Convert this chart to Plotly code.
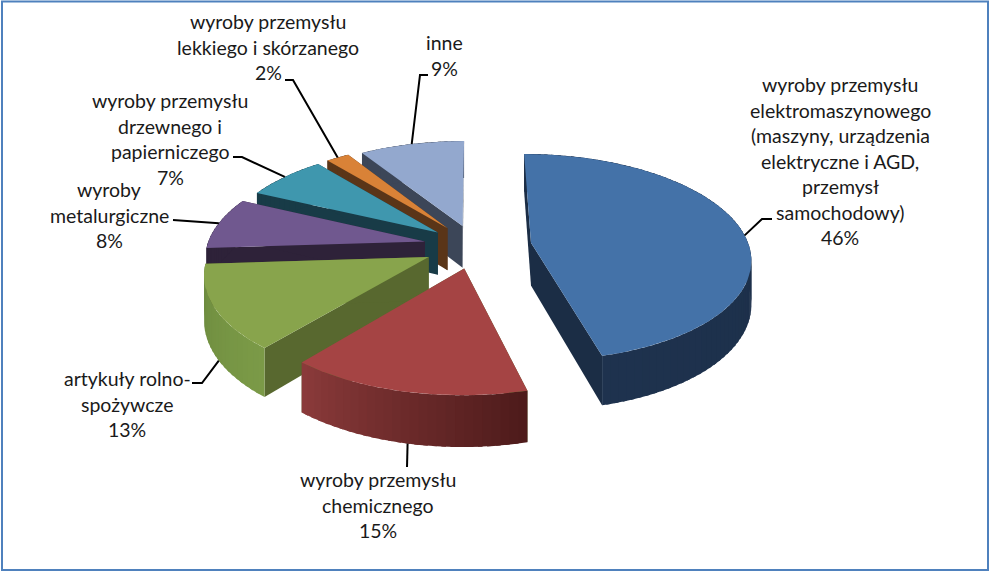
import math
import plotly.graph_objects as go

categories = ["wyroby przemysłu elektromaszynowego", "wyroby przemysłu chemicznego", "artykuły rolno-spożywcze",
              "wyroby metalurgiczne", "wyroby przemysłu drzewnego i papierniczego",
              "wyroby przemysłu lekkiego i skórzanego", "inne"]
values = [46, 15, 13, 8, 7, 2, 9]
label_lines = [
    ["wyroby przemysłu", "elektromaszynowego", "(maszyny, urządzenia", "elektryczne i AGD,", "przemysł", "samochodowy)"],
    ["wyroby przemysłu", "chemicznego"],
    ["artykuły rolno-", "spożywcze"],
    ["wyroby", "metalurgiczne"],
    ["wyroby przemysłu", "drzewnego i", "papierniczego"],
    ["wyroby przemysłu", "lekkiego i skórzanego"],
    ["inne"],
]
label_pos = [(840, 84.5), (378, 479.5), (127, 378.5), (109, 189.5), (170, 100.5), (268, 21.5), (444, 42.5)]
elbows = [[(762, 219), (772, 219)], [(407, 467)], [(202, 383), (192, 383)], [(173, 220)],
          [(242, 157), (233, 157)], [(293, 80), (285, 80)], [(420, 75), (428, 75)]]
anchor_offset = [3, -0.5, -3, 0, 0, 0, 0]

top_colors = ["#4472a8", "#a54444", "#88a44c", "#70588f", "#3f97ae", "#d98237", "#93a8ce"]
side_colors = ["#1b2d45", "#58682f", "#58682f", "#2e2239", "#183b47", "#5a3518", "#3c4658"]
arc_left = ["#1e324e", "#8a3a3a", "#6c8a3e", "#2e2239", "#183b47", "#5a3518", "#3c4658"]
arc_right = ["#1b2d45", "#4e1b1b", "#7b9a47", "#2e2239", "#183b47", "#5a3518", "#3c4658"]
explode = [0.26, 0.22, 0.235, 0.235, 0.22, 0.22, 0.21]
CX, CY, A, B, K, H, START = 475, 246, 218, 102, 0.14, 43, 0


def project(theta, radius, ex, mid, z=0.0):
    tx, mx = math.radians(theta), math.radians(mid)
    X = ex * math.sin(mx) + radius * math.sin(tx)
    V = ex * math.cos(mx) + radius * math.cos(tx)
    d = 1 + K * V
    return CX + A * X / d, CY - B * V / d + z * H / d


def mix(c1, c2, t):
    a = [int(c1[i:i + 2], 16) for i in (1, 3, 5)]
    b = [int(c2[i:i + 2], 16) for i in (1, 3, 5)]
    return "#%02x%02x%02x" % tuple(round(p + (q - p) * t) for p, q in zip(a, b))


fig = go.Figure()


def poly(pts, color):
    xs = [p[0] for p in pts] + [pts[0][0]]
    ys = [p[1] for p in pts] + [pts[0][1]]
    fig.add_trace(go.Scatter(x=xs, y=ys, mode="lines", fill="toself", fillcolor=color,
                             line=dict(color=color, width=0), hoverinfo="skip", showlegend=False))


spans = []
acc = START
for v in values:
    spans.append((acc, acc + v * 3.6))
    acc += v * 3.6

order = [6, 5, 4, 3, 2, 0, 1]
for i in order:
    t0, t1 = spans[i]
    mid = (t0 + t1) / 2
    ex = explode[i]
    for t in (t0, t1):
        poly([project(t, 0, ex, mid), project(t, 1, ex, mid), project(t, 1, ex, mid, 1), project(t, 0, ex, mid, 1)],
             side_colors[i])
    n = max(4, int((t1 - t0) / 2))
    for j in range(n):
        a0 = t0 + (t1 - t0) * j / n
        a1 = min(t1, t0 + (t1 - t0) * (j + 1) / n + 1.0)
        col = mix(arc_right[i], arc_left[i], j / max(1, n - 1))
        poly([project(a0, 1, ex, mid), project(a1, 1, ex, mid), project(a1, 1, ex, mid, 1), project(a0, 1, ex, mid, 1)], col)
    m = max(8, int(t1 - t0))
    pts = [project(t0 + (t1 - t0) * j / m, 1, ex, mid) for j in range(m + 1)]
    pts.append(project(t0, 0, ex, mid))
    poly(pts, top_colors[i])

annotations = []
for i, (lines, v) in enumerate(zip(label_lines, values)):
    cx_lab, y0 = label_pos[i]
    for j, s in enumerate(lines + [f"{v}%"]):
        annotations.append(dict(x=cx_lab, y=y0 + j * 25.5, text=s, showarrow=False, xref="x", yref="y",
                                xanchor="center", yanchor="middle", font=dict(family="Lato", size=19.5, color="#1a1a1a")))
    t0, t1 = spans[i]
    mid = (t0 + t1) / 2
    front = i in (1, 2)
    start = project(mid + anchor_offset[i], 1, explode[i], mid, 1 if front else 0)
    pts = [start] + elbows[i]
    fig.add_trace(go.Scatter(x=[p[0] for p in pts], y=[p[1] for p in pts], mode="lines",
                             line=dict(color="#000000", width=2), hoverinfo="skip", showlegend=False))

fig.update_layout(
    width=990, height=571, margin=dict(l=0, r=0, t=0, b=0), paper_bgcolor="white", plot_bgcolor="white",
    xaxis=dict(range=[0, 990], visible=False, fixedrange=True),
    yaxis=dict(range=[571, 0], visible=False, fixedrange=True),
    annotations=annotations,
    shapes=[dict(type="rect", xref="x", yref="y", x0=2, y0=1.5, x1=988, y1=570,
                 line=dict(color="#4f81bd", width=2), fillcolor="rgba(0,0,0,0)")],
)
fig.write_html("out.html", config={"displayModeBar": False},
               post_script="document.body.style.margin='0';document.body.style.overflow='hidden';")
